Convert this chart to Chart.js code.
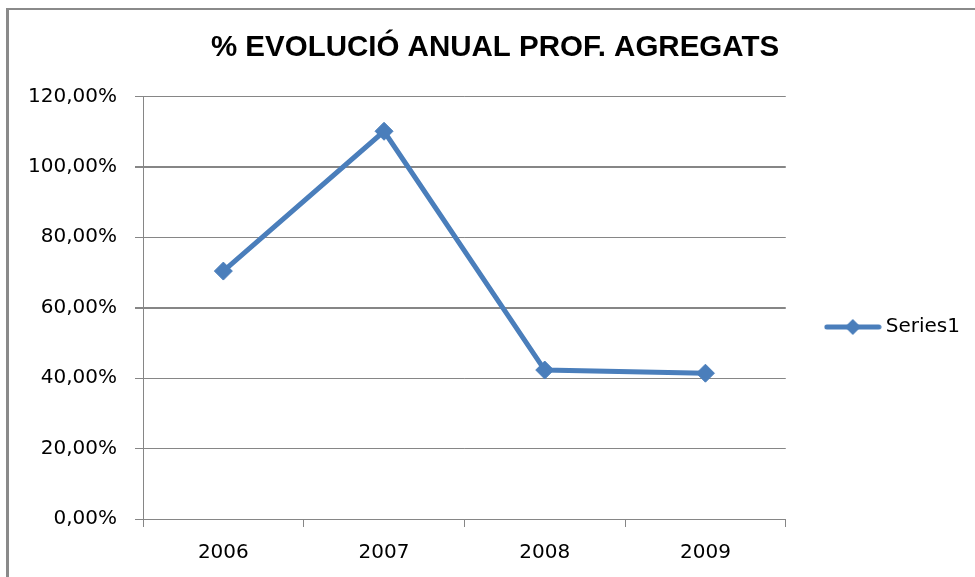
<!DOCTYPE html>
<html>
<head>
<meta charset="utf-8">
<script src="https://cdn.jsdelivr.net/npm/chart.js@4/dist/chart.umd.min.js"></script>
<style>
  html, body { margin: 0; padding: 0; background: #fff; }
  #wrap { position: relative; width: 975px; height: 577px; }
  #frame { position: absolute; left: 6px; top: 8px; right: 0; bottom: 0;
           border-left: 3px solid #8a8a8a; border-top: 2px solid #8a8a8a; pointer-events: none; }
  canvas { position: absolute; left: 0; top: 0; }
</style>
</head>
<body>
<div id="wrap">
  <canvas id="c" width="975" height="577"></canvas>
  <div id="frame"></div>
</div>
<script>
const titleText = '% EVOLUCIÓ ANUAL PROF. AGREGATS';
const categories = ['2006', '2007', '2008', '2009'];
const seriesName = 'Series1';
const seriesValues = [70.4, 110.1, 42.3, 41.4];
const yTickValues = [0, 20, 40, 60, 80, 100, 120];

const blue = '#4A7EBB';
const gridGray = '#868686';
const tickFont = { family: 'DejaVu Sans', size: 20 };

function fmtPct(v) { return v.toFixed(2).replace('.', ',') + '%'; }

// legend symbol: line with diamond marker
const sym = document.createElement('canvas');
sym.width = 58; sym.height = 20;
(function () {
  const g = sym.getContext('2d');
  g.strokeStyle = blue; g.lineWidth = 5; g.lineCap = 'round';
  g.beginPath(); g.moveTo(3, 10); g.lineTo(55, 10); g.stroke();
  g.fillStyle = blue;
  g.beginPath(); g.moveTo(29, 2); g.lineTo(37, 10); g.lineTo(29, 18); g.lineTo(21, 10); g.closePath(); g.fill();
})();

new Chart(document.getElementById('c'), {
  type: 'line',
  data: {
    labels: categories,
    datasets: [{
      label: seriesName,
      data: seriesValues,
      borderColor: blue,
      backgroundColor: blue,
      borderWidth: 5,
      pointStyle: 'rectRot',
      pointRadius: 9,
      pointHoverRadius: 9,
      pointBorderWidth: 1,
      pointBackgroundColor: blue,
      pointBorderColor: blue,
      tension: 0,
      fill: false
    }]
  },
  options: {
    responsive: false,
    animation: false,
    layout: { padding: { left: 20, right: 5, top: 10, bottom: 0 } },
    plugins: {
      title: {
        display: true,
        text: titleText,
        color: '#000',
        font: { family: 'Liberation Sans', size: 29.5, weight: 'bold' },
        padding: { top: 20, bottom: 31 }
      },
      legend: {
        display: true,
        position: 'right',
        align: 'center',
        title: {
          display: true,
          text: ' ',
          font: { size: 10 },
          padding: { top: 55, bottom: 0 }
        },
        labels: {
          usePointStyle: true,
          pointStyle: sym,
          pointStyleWidth: 46,
          padding: 44,
          color: '#000',
          font: tickFont
        }
      },
      tooltip: { enabled: false }
    },
    scales: {
      x: {
        type: 'category',
        offset: true,
        afterFit: (scale) => { scale.height = scale.height - 2; },
        grid: {
          offset: true,
          drawOnChartArea: false,
          drawTicks: true,
          tickLength: 8,
          color: gridGray,
          lineWidth: 1
        },
        border: { display: true, color: gridGray, width: 1 },
        ticks: { color: '#000', font: tickFont, padding: 14 }
      },
      y: {
        min: 0,
        max: 120,
        afterBuildTicks: (scale) => { scale.ticks = yTickValues.map(v => ({ value: v })); },
        afterFit: (scale) => { scale.width = 123; },
        grid: {
          color: gridGray,
          lineWidth: (ctx) => (ctx.tick && (ctx.tick.value === 100 || ctx.tick.value === 60)) ? 2 : 1,
          drawTicks: true,
          tickLength: 8
        },
        border: { display: true, color: gridGray, width: 1 },
        ticks: {
          color: '#000',
          font: tickFont,
          padding: 18,
          callback: (v) => fmtPct(v)
        }
      }
    }
  }
});
</script>
</body>
</html>
